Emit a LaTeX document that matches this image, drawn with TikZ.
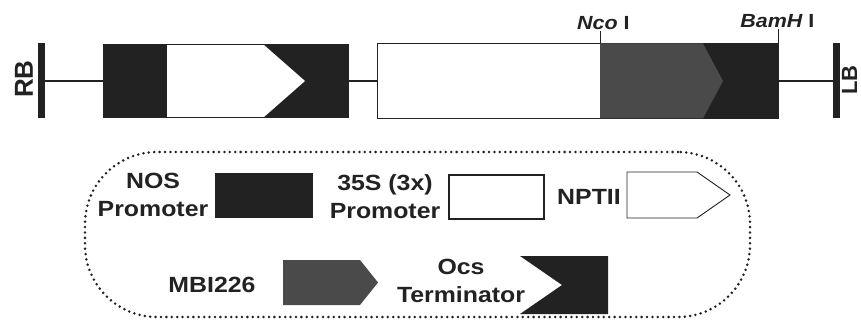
\documentclass[tikz,border=0pt]{standalone}
\usepackage{fontspec}
\setmainfont{Liberation Sans}
\newfontfamily\widesans[FakeStretch=1.13]{Liberation Sans}
\usetikzlibrary{positioning}
\definecolor{darkblk}{HTML}{222222}
\definecolor{genegray}{HTML}{4A4A4A}
\tikzset{
  segbox/.style={draw=darkblk, line width=0.8pt, inner sep=0pt, minimum height=72pt},
  backbone/.style={draw=darkblk, line width=2pt},
  border bar/.style={fill=darkblk, inner sep=0pt, minimum width=7pt, minimum height=75pt},
  borderlbl/.style={font=\fontsize{26}{26}\selectfont\bfseries, text=darkblk, inner sep=0pt, rotate=90},
  keytext/.style={font=\widesans\fontsize{22}{28}\selectfont\bfseries, align=center, text=darkblk, inner sep=0pt},
  sitetext/.style={font=\widesans\fontsize{19}{20}\selectfont\bfseries, text=darkblk, inner sep=1pt},
  keybox/.style={inner sep=0pt, minimum width=98pt, minimum height=45pt},
  legendbox/.style={draw=darkblk, line width=2.8pt, line cap=round, dash pattern=on 0pt off 5.4pt, rounded corners=72pt},
}
\begin{document}
\begin{tikzpicture}[x=1pt, y=-1pt]
	\useasboundingbox (0,0) rectangle (861,320);

	% T-DNA construct
	\node[border bar] (RB) at (41.5,81) {};
	\node[borderlbl] (RBlbl) at (24,79) {RB};

	\node[segbox, fill=darkblk, minimum width=244pt] (nosnpt) at (226,81) {};
	\fill[white] (167,45) -- (264,45) -- (305,81) -- (264,117) -- (167,117) -- cycle;
	\draw[darkblk, line width=0.8pt] (nosnpt.north west) rectangle (nosnpt.south east);

	\node[segbox, fill=white, minimum width=223pt, minimum height=75pt] (p35s) at (488.5,81) {};
	\node[segbox, fill=darkblk, minimum width=178pt, minimum height=75pt] (mbiocs) at (689,81) {};
	\fill[genegray] (600,43.5) -- (703,43.5) -- (723,81) -- (703,118.5) -- (600,118.5) -- cycle;

	\node[border bar] (LB) at (836.5,81) {};
	\node[borderlbl, font=\fontsize{22}{22}\selectfont\bfseries] (LBlbl) at (849.5,80) {LB};

	\draw[backbone] (RB) -- (nosnpt);
	\draw[backbone] (nosnpt) -- (p35s);
	\draw[backbone] (mbiocs) -- (LB);

	% restriction sites
	\node[sitetext, anchor=south] (nco) at ([xshift=3pt, yshift=12pt]p35s.north east) {\itshape Nco\upshape\ I};
	\draw[darkblk, line width=0.8pt] (p35s.north east) -- (p35s.north east |- nco.south);
	\node[sitetext, anchor=south] (bamh) at ([xshift=-1pt, yshift=14pt]mbiocs.north east) {\itshape BamH\upshape\ I};
	\draw[darkblk, line width=0.8pt] (mbiocs.north east) -- (mbiocs.north east |- bamh.south);

	% legend
	\node[legendbox, minimum width=665pt, minimum height=165pt] (legend) at (417.5,234.5) {};

	\node[keytext] (noslbl) at (153,195) {NOS\\Promoter};
	\node[keybox, fill=darkblk] (noskey) at (264,195.5) {};

	\node[keytext] (p35lbl) at (385,197) {35S (3x)\\Promoter};
	\node[keybox, draw=darkblk, line width=2.4pt, fill=white, minimum width=95pt, minimum height=44pt] (p35key) at (496.5,197) {};

	\node[keytext] (nptlbl) at (589,197) {NPTII};
	\draw[darkblk, line width=0.9pt] (627,172) -- (697,172) -- (730,195) -- (697,218) -- (627,218) -- cycle;

	\node[keytext] (mbilbl) at (212,285) {MBI226};
	\fill[genegray] (283,260) -- (360,260) -- (378,282.5) -- (360,305) -- (283,305) -- cycle;

	\node[keytext] (ocslbl) at (461,281) {Ocs\\Terminator};
	\fill[darkblk] (520,256) -- (608,256) -- (608,314) -- (520,314) -- (562,285) -- cycle;
\end{tikzpicture}
\end{document}
